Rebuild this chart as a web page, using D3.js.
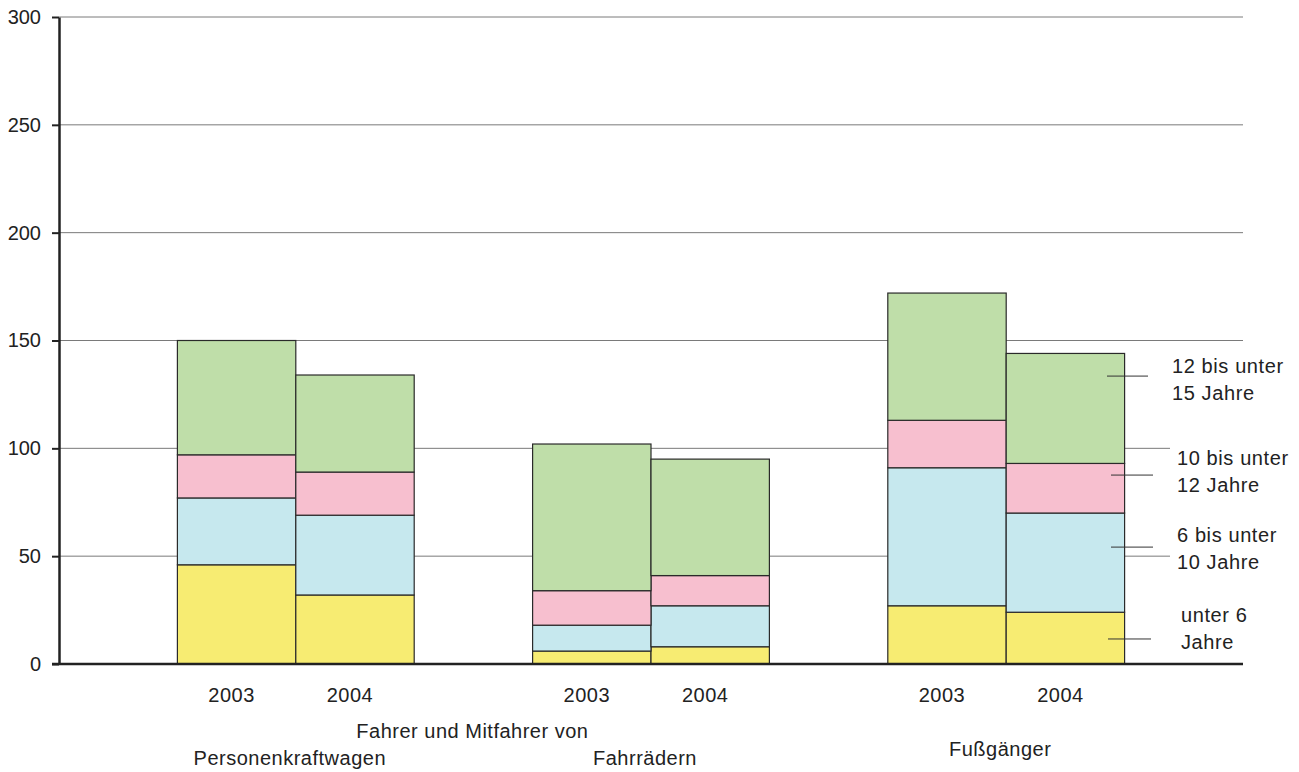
<!DOCTYPE html>
<html>
<head>
<meta charset="utf-8">
<script src="https://cdn.jsdelivr.net/npm/d3@7"></script>
<style>
  body { margin: 0; background: #fff; }
  text { font-family: "Liberation Sans", Arial, sans-serif; fill: #222; }
</style>
</head>
<body>
<div id="chart"></div>
<script>
const groups = ["Personenkraftwagen", "Fahrrädern", "Fußgänger"];
const years = ["2003", "2004"];
const ageKeys = ["u6", "a6_10", "a10_12", "a12_15"];
// values per bar: PKW 2003, PKW 2004, Rad 2003, Rad 2004, Fuß 2003, Fuß 2004
const under6 = [46, 32, 6, 8, 27, 24];
const age6to10 = [31, 37, 12, 19, 64, 46];
const age10to12 = [20, 20, 16, 14, 22, 23];
const age12to15 = [53, 45, 68, 54, 59, 51];
const yTicks = [0, 50, 100, 150, 200, 250, 300];
const legendLabels = [
  ["12 bis unter", "15 Jahre"],
  ["10 bis unter", "12 Jahre"],
  ["6 bis unter", "10 Jahre"],
  ["unter 6", "Jahre"]
];
const colors = ["#f7ec72", "#c6e8ee", "#f7bfcf", "#bfdea9"];

const W = 1299, H = 772;
const x0 = 59, x1 = 1243, yBase = 664, yTop = 17;

const rows = [];
groups.forEach((g, gi) => years.forEach((yr, yi) => {
  const i = gi * 2 + yi;
  rows.push({ group: g, year: yr, u6: under6[i], a6_10: age6to10[i], a10_12: age10to12[i], a12_15: age12to15[i] });
}));

const series = d3.stack().keys(ageKeys)(rows);

const x = d3.scaleBand()
  .domain(groups)
  .range([x0, x1])
  .paddingInner(1 / 3)
  .paddingOuter(1 / 3);

const xYear = d3.scaleBand()
  .domain(years)
  .range([0, x.bandwidth()]);

const y = d3.scaleLinear()
  .domain([0, 300])
  .range([yBase, yTop]);

const svg = d3.select("#chart")
  .append("svg")
  .attr("width", W)
  .attr("height", H);

// gridlines
svg.append("g")
  .selectAll("line")
  .data(yTicks.filter(d => d > 0))
  .enter()
  .append("line")
  .attr("x1", x0)
  .attr("x2", x1)
  .attr("y1", d => y(d))
  .attr("y2", d => y(d))
  .attr("stroke", "#7a7a7a")
  .attr("stroke-width", 1);

// white area behind legend texts hides grid ends
svg.append("rect")
  .attr("x", 1170)
  .attr("y", y(140))
  .attr("width", W - 1170)
  .attr("height", y(2) - y(140))
  .attr("fill", "#fff");

// stacked bars
svg.append("g")
  .selectAll("g")
  .data(series)
  .enter()
  .append("g")
  .attr("fill", (d, i) => colors[i])
  .selectAll("rect")
  .data(d => d)
  .enter()
  .append("rect")
  .attr("x", d => x(d.data.group) + xYear(d.data.year))
  .attr("y", d => y(d[1]))
  .attr("width", xYear.bandwidth())
  .attr("height", d => y(d[0]) - y(d[1]))
  .attr("stroke", "#2a2a2a")
  .attr("stroke-width", 1.2);

// y axis
const yAxis = svg.append("g")
  .attr("transform", `translate(${x0},0)`)
  .call(d3.axisLeft(y).tickValues(yTicks).tickSize(7).tickPadding(11).tickSizeOuter(0));
yAxis.select(".domain").attr("stroke", "#222").attr("stroke-width", 2.5);
yAxis.selectAll(".tick line").attr("stroke", "#222").attr("stroke-width", 2);
yAxis.selectAll(".tick text")
  .style("font-size", "20px")
  .style("font-family", "'Liberation Sans', Arial, sans-serif")
  .attr("fill", "#222");

// baseline
svg.append("line")
  .attr("x1", x0 - 7)
  .attr("x2", x1)
  .attr("y1", y(0))
  .attr("y2", y(0))
  .attr("stroke", "#222")
  .attr("stroke-width", 2.5);

// year labels
svg.append("g")
  .selectAll("text")
  .data(rows)
  .enter()
  .append("text")
  .attr("x", d => x(d.group) + xYear(d.year) + xYear.bandwidth() / 2 - 5)
  .attr("y", 702)
  .attr("text-anchor", "middle")
  .style("font-size", "20px")
  .style("letter-spacing", "0.5px")
  .text(d => d.year);

// category labels
const catY = [765, 765, 756];
svg.append("g")
  .selectAll("text")
  .data(groups)
  .enter()
  .append("text")
  .attr("x", d => x(d) + x.bandwidth() / 2 - 6)
  .attr("y", (d, i) => catY[i])
  .attr("text-anchor", "middle")
  .style("font-size", "20px")
  .style("letter-spacing", "0.5px")
  .text(d => d);

svg.append("text")
  .attr("x", (x(groups[0]) + x.bandwidth() / 2 + x(groups[1]) + x.bandwidth() / 2) / 2 - 1)
  .attr("y", 738)
  .attr("text-anchor", "middle")
  .style("font-size", "20px")
  .style("letter-spacing", "0.5px")
  .text("Fahrer und Mitfahrer von");

// legend with leader lines
const legendLineAt = [133.5, 87.6, 54.2, 11.6];
const legendLineX = [[1107, 1148], [1111, 1153], [1111, 1153], [1108, 1151]];
const legendTextX = [1172, 1177, 1177, 1181];
const legendTextY = [373, 465, 542, 622];

svg.append("g")
  .selectAll("line")
  .data(legendLineAt)
  .enter()
  .append("line")
  .attr("x1", (d, i) => legendLineX[i][0])
  .attr("x2", (d, i) => legendLineX[i][1])
  .attr("y1", d => y(d))
  .attr("y2", d => y(d))
  .attr("stroke", "#333")
  .attr("stroke-width", 1);

const legend = svg.append("g")
  .selectAll("text")
  .data(legendLabels)
  .enter()
  .append("text")
  .attr("x", (d, i) => legendTextX[i])
  .attr("y", (d, i) => legendTextY[i])
  .style("font-size", "20px")
  .style("letter-spacing", "0.6px");

legend.selectAll("tspan")
  .data(d => d)
  .enter()
  .append("tspan")
  .attr("x", function() { return d3.select(this.parentNode).attr("x"); })
  .attr("dy", (d, i) => i === 0 ? 0 : 27)
  .text(d => d);
</script>
</body>
</html>
